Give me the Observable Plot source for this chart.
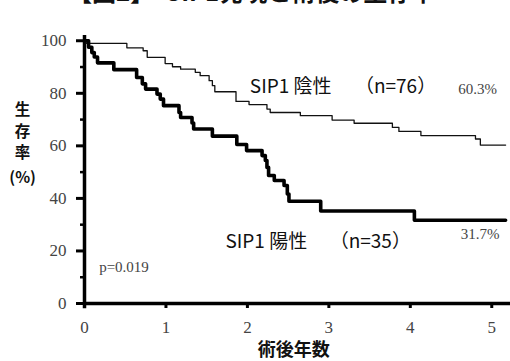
<!DOCTYPE html>
<html>
<head>
<meta charset="utf-8">
<script src="https://cdn.jsdelivr.net/npm/d3@7"></script>
<script src="https://cdn.jsdelivr.net/npm/@observablehq/plot@0.6"></script>
<style>
  html, body { margin: 0; padding: 0; background: #fff; }
  #wrap { position: relative; width: 510px; height: 361px; overflow: hidden; }
  #title { position: absolute; left: 68px; top: -21px; font: bold 24px "Noto Sans CJK JP"; color: #111; white-space: pre; line-height: 1; }
  svg { display: block; }
</style>
</head>
<body>
<div id="wrap"><div id="chart"></div><div id="title">【図2】　SIP1発現と術後の生存率</div></div>
<script>
// SIP1 negative (n=76): time (years), survival (%)
const negTime = [0, 0.02, 0.52, 0.72, 0.77, 0.99, 1.08, 1.18, 1.36, 1.42, 1.53, 1.57, 1.60, 1.86, 2.02, 2.24, 2.28, 2.65, 3.04, 3.31, 3.78, 3.86, 4.13, 4.80, 4.86, 5.17];
const negSurv = [100, 99.0, 97.3, 96.2, 93.7, 91.3, 90.1, 89.2, 88.0, 86.7, 84.8, 82.9, 80.6, 76.9, 75.7, 74.0, 72.7, 71.5, 69.8, 68.6, 67.0, 65.5, 63.9, 62.6, 60.3, 60.3];
// SIP1 positive (n=35)
const posTime = [0, 0.05, 0.09, 0.12, 0.16, 0.36, 0.64, 0.71, 0.75, 0.89, 0.93, 0.97, 1.16, 1.18, 1.32, 1.34, 1.57, 1.87, 1.99, 2.18, 2.22, 2.24, 2.26, 2.33, 2.45, 2.49, 2.51, 2.90, 4.05, 5.17];
const posSurv = [100, 97.5, 95.5, 93.8, 91.6, 89.0, 86.0, 83.6, 81.6, 79.7, 77.8, 75.3, 72.7, 70.8, 68.7, 66.4, 63.7, 60.5, 58.2, 56.3, 54.4, 51.8, 48.7, 46.8, 44.9, 41.7, 38.9, 35.2, 31.7, 31.7];

const yMajor = [0, 20, 40, 60, 80, 100];
const yMinor = [10, 30, 50, 70, 90];
const xTicks = [0, 1, 2, 3, 4, 5];
const yTitle = ["生", "存", "率", "(%)"];
const yTitlePos = [73.5, 65.3, 57.2, 47.6];

const neg = negTime.map((t, i) => ({t, s: negSurv[i]}));
const pos = posTime.map((t, i) => ({t, s: posSurv[i]}));

const serif = "'Liberation Serif', 'Times New Roman', serif";
const cjk = "'Noto Sans CJK JP', sans-serif";

const chart = Plot.plot({
  width: 510,
  height: 361,
  marginLeft: 84,
  marginRight: 0,
  marginTop: 35,
  marginBottom: 58,
  style: {background: "#fff", overflow: "visible"},
  x: {domain: [0, 5.23], axis: null},
  y: {domain: [0, 102], axis: null},
  marks: [
    Plot.ruleY([0], {stroke: "#000", strokeWidth: 3.5}),
    Plot.ruleX([0], {y1: -2, y2: 102, stroke: "#000", strokeWidth: 3.5}),
    Plot.axisY({ticks: yMajor, text: null, label: null, tickSize: 8, strokeWidth: 3, stroke: "#000"}),
    Plot.axisY({ticks: yMinor, text: null, label: null, tickSize: 4, strokeWidth: 2.5, stroke: "#000"}),
    Plot.axisX({ticks: xTicks, text: null, label: null, tickSize: 5, strokeWidth: 3, stroke: "#000"}),
    Plot.text(yMajor, {x: 0, y: d => d, text: d => String(d), dx: -18, textAnchor: "end", fontSize: 17, fontFamily: serif, fill: "#444"}),
    Plot.text(xTicks, {x: d => d, y: 0, text: d => String(d), dy: 24, textAnchor: "middle", fontSize: 17, fontFamily: serif, fill: "#444"}),
    Plot.line(neg, {x: "t", y: "s", curve: "step-after", stroke: "#111", strokeWidth: 1.3}),
    Plot.line(pos, {x: "t", y: "s", curve: "step-after", stroke: "#000", strokeWidth: 3.6}),
    Plot.text(["SIP1 陰性"], {x: 2.03, y: 82.6, text: d => d, textAnchor: "start", fontSize: 19, fontFamily: cjk, fill: "#111"}),
    Plot.text(["（n=76）"], {x: 3.32, y: 82.6, text: d => d, textAnchor: "start", fontSize: 19, fontFamily: cjk, fill: "#111"}),
    Plot.text(["60.3%"], {x: 4.59, y: 81.5, text: d => d, textAnchor: "start", fontSize: 15, fontFamily: serif, fill: "#444"}),
    Plot.text(["SIP1 陽性"], {x: 1.73, y: 23.6, text: d => d, textAnchor: "start", fontSize: 19, fontFamily: cjk, fill: "#111"}),
    Plot.text(["（n=35）"], {x: 3.01, y: 23.6, text: d => d, textAnchor: "start", fontSize: 19, fontFamily: cjk, fill: "#111"}),
    Plot.text(["31.7%"], {x: 4.62, y: 26.3, text: d => d, textAnchor: "start", fontSize: 15, fontFamily: serif, fill: "#444"}),
    Plot.text(["p=0.019"], {x: 0.18, y: 13.7, text: d => d, textAnchor: "start", fontSize: 15, fontFamily: serif, fill: "#444"}),
    Plot.text(yTitle, {x: -0.76, y: (d, i) => yTitlePos[i], text: d => d, textAnchor: "middle", fontSize: 15.5, fontWeight: "bold", fontFamily: cjk, fill: "#111"}),
    Plot.text(["術後年数"], {x: 2.57, y: -17.8, text: d => d, textAnchor: "middle", fontSize: 18, fontWeight: "bold", fontFamily: cjk, fill: "#111"})
  ]
});
document.getElementById("chart").appendChild(chart);
</script>
</body>
</html>
